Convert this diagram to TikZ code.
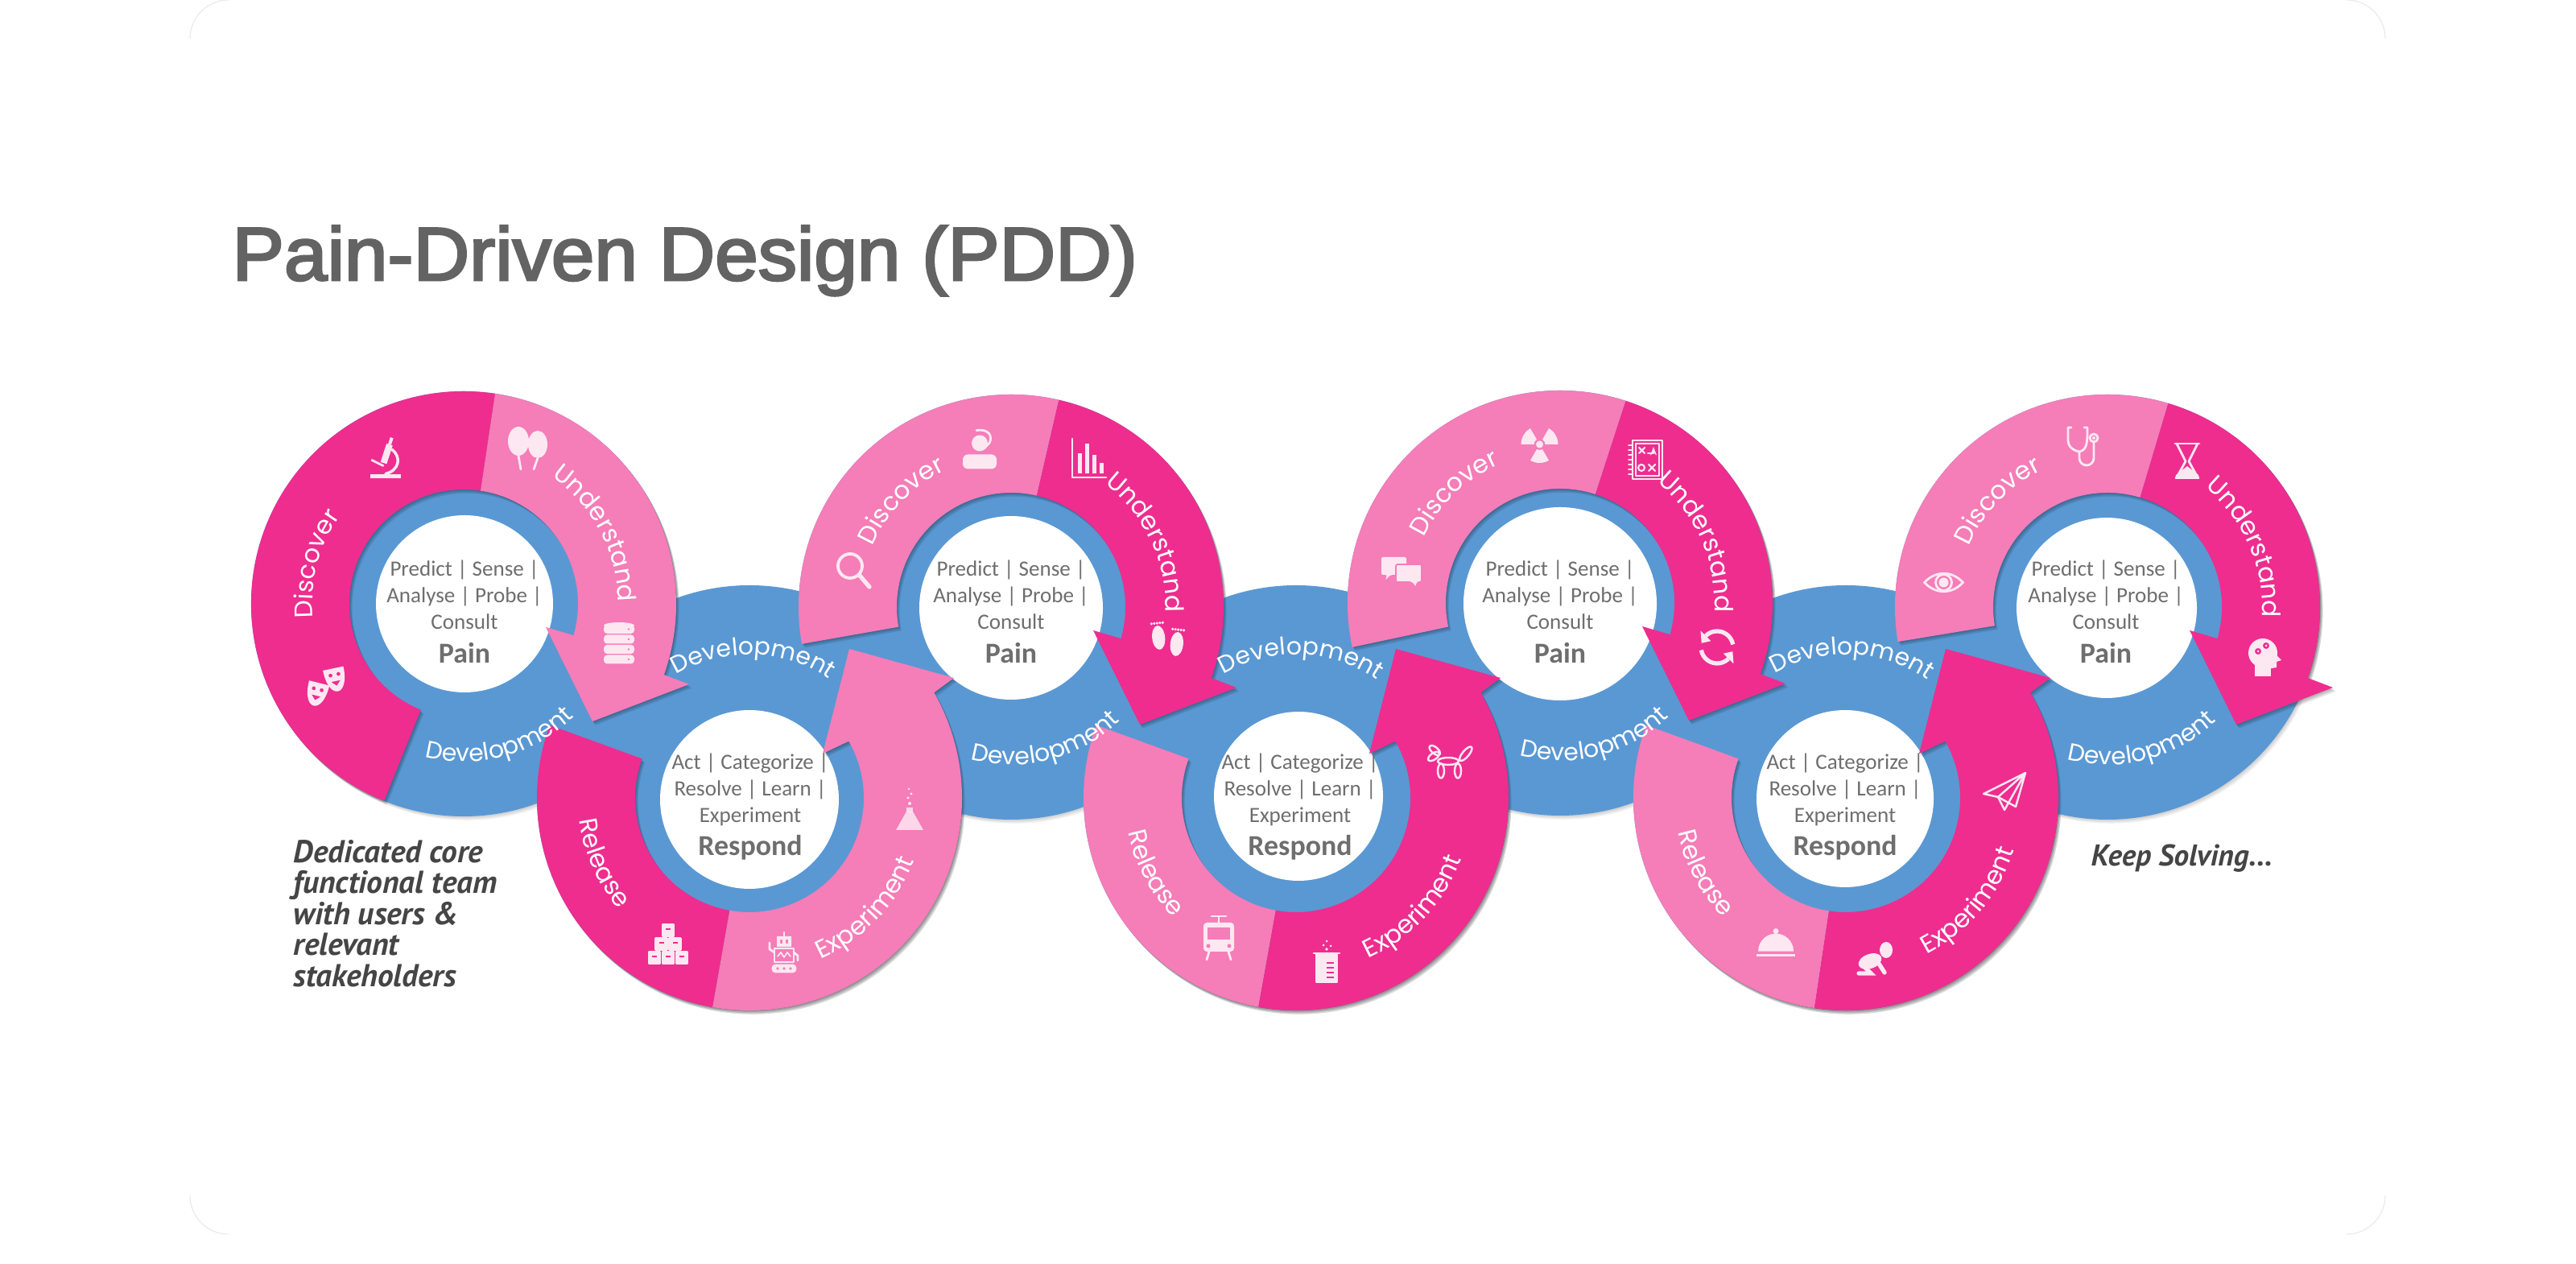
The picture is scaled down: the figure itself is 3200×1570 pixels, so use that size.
\documentclass[tikz,border=0pt]{standalone}
\usepackage{fontspec}
\usetikzlibrary{decorations.text,arrows.meta}
\setmainfont{Carlito}
\newfontfamily\ringfont{Poppins}
\newfontfamily\titlefont[FakeBold=3,FakeStretch=1.03]{Liberation Sans}
\newfontfamily\handfont{PT Sans}
\definecolor{dk}{HTML}{EE2D8F}
\definecolor{lt}{HTML}{F57DB8}
\definecolor{bl}{HTML}{5A98D3}
\definecolor{tg}{HTML}{6E6E6E}
\definecolor{ttl}{HTML}{636363}
\definecolor{hand}{HTML}{454545}
\definecolor{ic}{HTML}{FDE8F2}
\tikzset{
  icf/.style={fill=ic,draw=none},
  icl/.style={draw=ic,fill=none,line width=0.8pt,line cap=round,line join=round},
  icb/.style={draw=ic,fill=none,line width=1.5pt,line cap=round},
  centertxt/.style={text=tg,align=center,font=\fontsize{7.7}{9.4}\selectfont,inner sep=0pt},
  centerhd/.style={text=tg,font=\fontsize{10.2}{12}\selectfont\bfseries,inner sep=0pt},
  handtxt/.style={text=hand,anchor=base west,inner sep=0pt,font=\handfont\itshape\bfseries\fontsize{11.2}{12}\selectfont},
  handtxtb/.style={handtxt,font=\handfont\itshape\bfseries\fontsize{10.6}{12}\selectfont}
}
\newcommand\shadowed[2]{%
  \foreach \s in {1,2,3} {\fill[black,opacity=.10,shift={(1.2*\s,-1.6*\s)}] #2;}
  \fill[#1] #2;}
% pain ring: x,y,tail,boundary,col1,col2
\newcommand\painring[6]{\begin{scope}[shift={(#1,#2)}]
\shadowed{#5}{(#3:264) arc[start angle=#3,end angle=#4,radius=264] -- (#4:142) arc[start angle=#4,end angle=#3,radius=142] -- cycle}
\shadowed{#6}{(#4:264) arc[start angle=#4,end angle=-19.5,radius=264] -- (280,-100) -- (160,-146) -- (102,-29) -- (-16:142) arc[start angle=-16,end angle=#4,radius=142] -- cycle}
\end{scope}}
% respond ring: x,y,boundary,col1,col2
\newcommand\respring[5]{\begin{scope}[shift={(#1,#2)}]
\shadowed{#4}{(160:264) arc[start angle=160,end angle=#3,radius=264] -- (#3:142) arc[start angle=#3,end angle=160,radius=142] -- cycle}
\shadowed{#5}{(#3:264) arc[start angle=#3,end angle=389.7,radius=264] -- (254,149) -- (124,185) -- (91,55) -- (29.7:142) arc[start angle=389.7,end angle=#3,radius=142] -- cycle}
\end{scope}}
% text along an arc
\newcommand\cwword[6][8.9]{\begin{scope}[shift={(#2,#3)}]
\pgfmathsetmacro\aa{#5+55}\pgfmathsetmacro\bb{#5-55}
\path[decorate,decoration={text along path,text align=center,text={|\ringfont\fontsize{#1}{10}\selectfont\color{white}|#6}}] (\aa:#4) arc[start angle=\aa,end angle=\bb,radius=#4];
\end{scope}}
\newcommand\ccwword[6][8.9]{\begin{scope}[shift={(#2,#3)}]
\pgfmathsetmacro\aa{#5-55}\pgfmathsetmacro\bb{#5+55}
\path[decorate,decoration={text along path,text align=center,text={|\ringfont\fontsize{#1}{10}\selectfont\color{white}|#6}}] (\aa:#4) arc[start angle=\aa,end angle=\bb,radius=#4];
\end{scope}}
\newcommand\placeicon[3]{\begin{scope}[shift={(#1,1570-#2)}]#3\end{scope}}
% icons
\newcommand\icMicroscope{
 \fill[icf] (-19,-27) rectangle (19,-22);
 \fill[icf,rotate=-18] (-4,-8) rectangle (4,16);
 \fill[icf,rotate=-18] (-2,16) rectangle (2,25);
 \draw[icl,line width=1pt] (8,9) .. controls (20,0) and (17,-17) .. (0,-21);
 \draw[icl] (-17,-4) -- (-3,-11);}
\newcommand\icBalloons{
 \fill[icf] (-11,8) ellipse[x radius=13,y radius=18];
 \fill[icf] (13,4) ellipse[x radius=12,y radius=17];
 \draw[icl] (-11,-10) -- (-8,-27); \draw[icl] (13,-13) -- (8,-27);}
\newcommand\icDatabase{
 \foreach \y in {-19,-6.5,6,18.5} {\fill[icf,rounded corners=1.2pt] (-19,\y-5.5) rectangle (19,\y+5.5);}
 \fill[icf] (0,23) ellipse[x radius=19,y radius=4];
 \foreach \y in {-19,-6.5,6,18.5} {\fill[lt] (12,\y) circle[radius=1.4];}}
\newcommand\onemask{\fill[icf,even odd rule] (-13,13) -- (13,13) .. controls (13,-8) and (6,-16) .. (0,-16) .. controls (-6,-16) and (-13,-8) .. (-13,13) -- cycle (-5,5) circle[radius=2.5] (5,5) circle[radius=2.5] (-6,-3) -- (6,-3) -- (0,-9) -- cycle;}
\newcommand\icMasks{
 \begin{scope}[shift={(11,10)},rotate=12]\onemask\end{scope}
 \begin{scope}[shift={(-12,-8)},rotate=-14]\onemask\end{scope}}
\newcommand\icMagnifier{
 \draw[icl,line width=1.1pt] (-5,6) circle[radius=15];
 \draw[icb] (7,-6) -- (19,-20);}
\newcommand\icHeadset{
 \fill[icf] (0,8) circle[radius=10];
 \fill[icf,rounded corners=1.8pt] (-21,-24) -- (-21,-6) -- (21,-6) -- (21,-24) -- cycle;
 \draw[icl] (-4,24) .. controls (10,26) and (17,18) .. (12,8) -- (7,3);}
\newcommand\icBars{
 \draw[icl] (-20,26) -- (-20,-22) -- (22,-22);
 \fill[icf] (-13,-17) rectangle (-8,8);
 \fill[icf] (-4,-17) rectangle (1,20);
 \fill[icf] (5,-17) rectangle (10,6);
 \fill[icf] (14,-17) rectangle (19,-4);}
\newcommand\onefoot{\fill[icf] (0,-2) ellipse[x radius=8,y radius=15];
 \foreach \xx in {-7,-3.5,0,3.5,7}{\fill[icf] (\xx,16) circle[radius=1.8];}}
\newcommand\icFeet{
 \begin{scope}[shift={(-11,4)},rotate=6]\onefoot\end{scope}
 \begin{scope}[shift={(12,-4)},rotate=-6]\onefoot\end{scope}}
\newcommand\icRadiation{
 \fill[icf] (0,0) circle[radius=4.5];
 \foreach \a in {30,150,270}{\fill[icf] (\a-30:7) arc[start angle=\a-30,end angle=\a+30,radius=7] -- (\a+30:23) arc[start angle=\a+30,end angle=\a-30,radius=23] -- cycle;}}
\newcommand\icChat{
 \fill[icf,rounded corners=0.6pt] (-25,18) -- (6,18) -- (6,-4) -- (-14,-4) -- (-20,-11) -- (-18,-4) -- (-25,-4) -- cycle;
 \fill[ic,draw=lt,line width=0.5pt,rounded corners=0.6pt] (-7,9) -- (25,9) -- (25,-13) -- (20,-13) -- (18,-20) -- (12,-13) -- (-7,-13) -- cycle;}
\newcommand\icBoard{
 \draw[icl] (-15,-24) rectangle (22,24);
 \draw[icl,line width=0.6pt] (-11,20) rectangle (18,-20);
 \foreach \y in {-18,-12,-6,0,6,12,18}{\draw[icl,line width=0.5pt] (-20,\y) -- (-15,\y);}
 \draw[icl,line width=0.6pt] (-7,15) -- (0,8) (0,15) -- (-7,8) (5,-6) -- (13,-14) (13,-6) -- (5,-14);
 \draw[icl,line width=0.6pt] (-4,-10) circle[radius=4];
 \draw[icl,line width=0.6pt,-{Stealth[length=3pt]}] (4,8) -- (11,8) -- (11,16);}
\newcommand\icSync{
 \draw[icl,line width=1.5pt,line cap=butt] (10:20) arc[start angle=10,end angle=135,radius=20];
 \fill[icf] (135:29) -- (135:11) -- (165:20) -- cycle;
 \draw[icl,line width=1.5pt,line cap=butt] (190:20) arc[start angle=190,end angle=315,radius=20];
 \fill[icf] (315:29) -- (315:11) -- (345:20) -- cycle;}
\newcommand\icStethoscope{
 \draw[icl] (-14,24) -- (-18,24) -- (-18,8) .. controls (-18,-4) and (-4,-6) .. (-4,-6) .. controls (6,-4) and (6,6) .. (6,24) -- (2,24);
 \draw[icl] (-4,-6) -- (-4,-14) arc[start angle=180,end angle=360,radius=9] -- (14,6);
 \draw[icl] (14,11) circle[radius=5]; \fill[icf] (14,11) circle[radius=2];}
\newcommand\icEye{
 \draw[icl] (-24,0) .. controls (-10,15) and (10,15) .. (24,0) .. controls (10,-15) and (-10,-15) .. (-24,0) -- cycle;
 \draw[icl] (0,0) circle[radius=10];
 \fill[icf] (0,0) circle[radius=6];}
\newcommand\icHourglass{
 \draw[icl] (-15,22) -- (15,22) (-14,-20) -- (14,-20);
 \draw[icl] (-13,22) -- (-2,0) -- (-13,-20) (13,22) -- (2,0) -- (13,-20);
 \fill[icf] (-15,-22) -- (15,-22) -- (14,-17) -- (0,-6) -- (-14,-17) -- cycle;}
\newcommand\icHead{
 \fill[icf] (-2,6) circle[radius=18];
 \fill[icf] (-12,-23) rectangle (8,-5);
 \fill[icf] (10,8) -- (21,-3) -- (15,-5) -- (15,-12) -- (4,-14) -- cycle;
 \fill[dk] (-8,8) circle[radius=4]; \fill[dk] (2,15) circle[radius=4];
 \fill[ic] (-8,8) circle[radius=1.5]; \fill[ic] (2,15) circle[radius=1.5];}
\newcommand\oneblock[2]{\draw[icl,line width=0.7pt,fill=ic] (#1-7,#2-7) rectangle (#1+7,#2+7);\fill[dk] (#1-3,#2+1) rectangle (#1+3,#2+3);}
\newcommand\icBlocks{
 \oneblock{-17}{-17}\oneblock{0}{-17}\oneblock{17}{-17}
 \oneblock{-8.5}{0}\oneblock{8.5}{0}\oneblock{0}{17}}
\newcommand\icRobot{
 \fill[icf,even odd rule] (-9,9) rectangle (9,22) (-5,13) rectangle (-2,18) (2,13) rectangle (5,18);
 \draw[icl] (0,22) -- (0,27);
 \draw[icl] (-12,7) rectangle (12,-10);
 \draw[icl,line width=0.5pt] (-8,-3) -- (-4,2) -- (0,-4) -- (4,2) -- (8,-3);
 \draw[icl] (-12,2) -- (-18,6) -- (-18,14) (12,2) -- (17,-2) -- (17,-8);
 \draw[icl,fill=ic,rounded corners=1pt] (-14,-14) rectangle (14,-22);
 \foreach \xx in {-8,0,8}{\fill[lt] (\xx,-18) circle[radius=1.8];}}
\newcommand\icFlask{
 \fill[ic,opacity=.85] (-4,-2) -- (-17,-25) -- (17,-25) -- (4,-2) -- cycle;
 \fill[ic,opacity=.85] (-4,-3) rectangle (4,3);
 \foreach \xx/\yy/\r in {0/8/2,-2/15/1.6,2/20/1.6,-1/26/1.4}{\fill[icf] (\xx,\yy) circle[radius=\r];}}
\newcommand\icTrain{
 \fill[icf,rounded corners=1.2pt] (-19,-17) rectangle (19,19);
 \fill[lt] (-14,-2) rectangle (14,13);
 \fill[lt] (-13,-10) circle[radius=2.5] (13,-10) circle[radius=2.5];
 \draw[icl] (-9,27) -- (9,27) (0,27) -- (0,19);
 \draw[icl] (-12,-17) -- (-15,-27) (12,-17) -- (15,-27);}
\newcommand\icBeaker{
 \draw[icl,fill=ic] (-13,-26) rectangle (13,10);
 \draw[icl] (-16,10) -- (16,10);
 \foreach \y in {-20,-14,-8,-2}{\draw[dk,line width=0.6pt] (0,\y) -- (9,\y);}
 \foreach \xx/\yy/\r in {0/15/1.8,-4/20/1.5,5/19/1.5,0/25/1.5}{\fill[icf] (\xx,\yy) circle[radius=\r];}}
\newcommand\icDog{
 \draw[icl,line width=0.7pt] (-1,1) ellipse[x radius=13,y radius=4.5];
 \draw[icl,line width=0.7pt,rotate around={35:(-19,7)}] (-19,7) ellipse[x radius=8,y radius=4];
 \draw[icl,line width=0.7pt,rotate around={-40:(-19,13)}] (-19,15) ellipse[x radius=8,y radius=4];
 \draw[icl,line width=0.7pt,rotate around={-40:(18,10)}] (20,12) ellipse[x radius=4,y radius=11];
 \draw[icl,line width=0.7pt] (-10,-11) ellipse[x radius=4,y radius=9];
 \draw[icl,line width=0.7pt] (11,-11) ellipse[x radius=4,y radius=9];}
\newcommand\icCloche{
 \fill[icf] (-22,-9) arc[start angle=180,end angle=0,radius=22] -- cycle;
 \fill[icf] (0,16) circle[radius=3.5];
 \fill[icf] (-24,-15) rectangle (24,-12);}
\newcommand\icBaby{
 \fill[icf] (14,14) ellipse[x radius=8,y radius=10];
 \fill[icf,rotate around={20:(-6,0)}] (-6,0) ellipse[x radius=15,y radius=9];
 \draw[icb] (5,-3) -- (12,-14);
 \draw[icb] (-14,-6) -- (-5,-15) -- (-20,-15);}
\newcommand\icPlane{
 \draw[icl,line width=0.7pt] (-26,-2) -- (26,24) -- (14,-18) -- (-8,-6) -- cycle;
 \draw[icl,line width=0.7pt] (-8,-6) -- (26,24) -- (0,-22) -- (-8,-6);}
\begin{document}
\begin{tikzpicture}[x=0.01cm,y=0.01cm]
\useasboundingbox (0,0) rectangle (3200,1570);
\fill[white] (0,0) rectangle (3200,1570);
% faint card corners
\draw[black!9,line width=0.3pt] (236,1522) arc[start angle=180,end angle=90,radius=48];
\draw[black!9,line width=0.3pt] (2915,1570) arc[start angle=90,end angle=0,radius=48];
\draw[black!9,line width=0.3pt] (236,85) arc[start angle=180,end angle=270,radius=48];
\draw[black!9,line width=0.3pt] (2963,85) arc[start angle=0,end angle=-90,radius=48];
% title
\node[anchor=base west,inner sep=0pt,text=ttl,font=\titlefont\fontsize{26.6}{30}\selectfont] (title) at (288,1222) {Pain-Driven Design (PDD)};
% blue discs
\foreach \x/\y in {576/820,931/579,1256/816,1610/579,1938/821,2293/579,2618/816}{
  \foreach \s in {1,2,3} {\fill[black,opacity=.06,shift={(1.2*\s,-1.6*\s)}] (\x,\y) circle[radius=264];}
}
\foreach \x/\y in {576/820,931/579,1256/816,1610/579,1938/821,2293/579,2618/816}{
  \fill[bl] (\x,\y) circle[radius=264];
}
% white hubs
\foreach \x/\y/\r in {577/820/110,931/577/111,1256/815/114,1613/581/105,1938/820/120,2292/578/110,2617/815/112}{
  \fill[white] (\x,\y) circle[radius=\r];
}
% arrows
\painring{576}{820}{248}{81.5}{dk}{lt}
\respring{931}{579}{260}{dk}{lt}
\painring{1256}{816}{190}{77}{lt}{dk}
\respring{1610}{579}{259.8}{lt}{dk}
\painring{1938}{821}{192}{72}{lt}{dk}
\respring{2293}{579}{261.5}{lt}{dk}
\painring{2618}{816}{189.4}{73.4}{lt}{dk}
% ring words
\cwword{576}{820}{188}{165}{Discover}
\cwword{576}{820}{192}{28}{Understand}
\ccwword[8.5]{576}{820}{196}{285}{Development}
\cwword[8.5]{931}{579}{178}{88.5}{Development}
\ccwword{931}{579}{213}{204}{Release}
\ccwword{931}{579}{219}{316.5}{Experiment}
\cwword{1256}{816}{188}{136}{Discover}
\cwword{1256}{816}{192}{25.5}{Understand}
\ccwword[8.5]{1256}{816}{196}{284.5}{Development}
\cwword[8.5]{1610}{579}{178}{88}{Development}
\ccwword{1610}{579}{213}{208}{Release}
\ccwword{1610}{579}{219}{317}{Experiment}
\cwword{1938}{821}{188}{134}{Discover}
\cwword{1938}{821}{192}{24}{Understand}
\ccwword[8.5]{1938}{821}{196}{284.5}{Development}
\cwword[8.5]{2293}{579}{178}{87.5}{Development}
\ccwword{2293}{579}{213}{208}{Release}
\ccwword{2293}{579}{219}{320}{Experiment}
\cwword{2618}{816}{188}{136}{Discover}
\cwword{2618}{816}{192}{23.5}{Understand}
\ccwword[8.5]{2618}{816}{196}{284.5}{Development}
% hub texts
\node[centertxt] (pt1) at (577,831.5) {Predict | Sense |\\Analyse | Probe |\\Consult};
\node[centerhd] (ph1) at (577,759) {Pain};
\node[centertxt] (pt2) at (1256,831.5) {Predict | Sense |\\Analyse | Probe |\\Consult};
\node[centerhd] (ph2) at (1256,759) {Pain};
\node[centertxt] (pt3) at (1938,831.5) {Predict | Sense |\\Analyse | Probe |\\Consult};
\node[centerhd] (ph3) at (1938,759) {Pain};
\node[centertxt] (pt4) at (2616,831.5) {Predict | Sense |\\Analyse | Probe |\\Consult};
\node[centerhd] (ph4) at (2616,759) {Pain};
\node[centertxt] (rt1) at (932,589) {Act | Categorize |\\Resolve | Learn |\\Experiment};
\node[centerhd] (rh1) at (932,517) {Respond};
\node[centertxt] (rt2) at (1615,589) {Act | Categorize |\\Resolve | Learn |\\Experiment};
\node[centerhd] (rh2) at (1615,517) {Respond};
\node[centertxt] (rt3) at (2292,589) {Act | Categorize |\\Resolve | Learn |\\Experiment};
\node[centerhd] (rh3) at (2292,517) {Respond};
% notes
\node[handtxt] (n1) at (364,498) {Dedicated core};
\node[handtxt] (n2) at (364,460) {functional team};
\node[handtxt] (n3) at (364,421) {with users \&};
\node[handtxt] (n4) at (364,383) {relevant};
\node[handtxt] (n5) at (364,344) {stakeholders};
\node[handtxtb] (n6) at (2597,494) {Keep Solving...};
% icons
\placeicon{479}{567.5}{\icMicroscope}
\placeicon{655}{556}{\icBalloons}
\placeicon{769}{800}{\icDatabase}
\placeicon{405.5}{853}{\icMasks}
\placeicon{1061}{709}{\icMagnifier}
\placeicon{1217}{558.5}{\icHeadset}
\placeicon{1352}{571}{\icBars}
\placeicon{1450}{794}{\icFeet}
\placeicon{1912.5}{552}{\icRadiation}
\placeicon{1741}{710}{\icChat}
\placeicon{2043}{571}{\icBoard}
\placeicon{2133}{804}{\icSync}
\placeicon{2587}{555}{\icStethoscope}
\placeicon{2414.5}{723.5}{\icEye}
\placeicon{2717}{573}{\icHourglass}
\placeicon{2813}{817}{\icHead}
\placeicon{830}{1172.6}{\icBlocks}
\placeicon{974}{1185}{\icRobot}
\placeicon{1130}{1006}{\icFlask}
\placeicon{1514}{1165}{\icTrain}
\placeicon{1648}{1194}{\icBeaker}
\placeicon{1800}{946.5}{\icDog}
\placeicon{2206}{1172.6}{\icCloche}
\placeicon{2329}{1194}{\icBaby}
\placeicon{2490}{984}{\icPlane}
\end{tikzpicture}
\end{document}
